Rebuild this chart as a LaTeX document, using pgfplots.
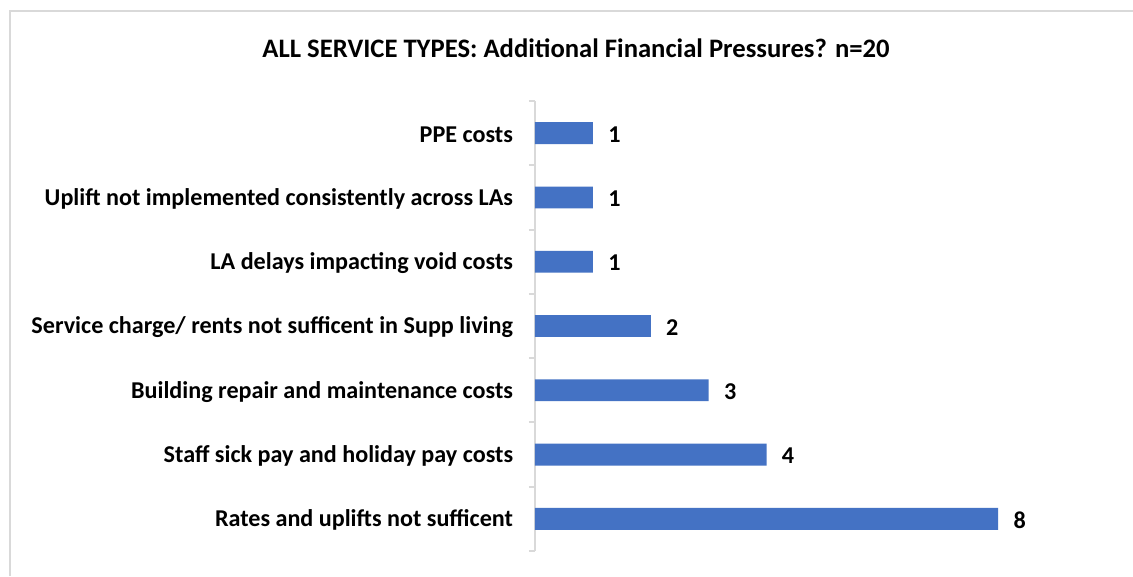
\documentclass[border=0pt]{standalone}
\usepackage{pgfplots}
\pgfplotsset{compat=1.18}
\usepackage{fontspec}
\setmainfont{Carlito}
\definecolor{barblue}{HTML}{4472C4}
\definecolor{framegray}{RGB}{217,217,217}
\begin{document}
\begin{tikzpicture}
\useasboundingbox (0,0) rectangle (849.75pt,432pt);
\fill[white] (0,0) rectangle (849.75pt,432pt);
\draw[framegray,line width=1.5pt] (7.5pt,0) -- (7.5pt,423.75pt) -- (849.75pt,423.75pt);
\node[font=\fontsize{20pt}{24pt}\selectfont\bfseries] at (432pt,396pt) {ALL SERVICE TYPES: Additional Financial Pressures? n=20};
\begin{axis}[
  at={(401.25pt,18.75pt)}, anchor=south west,
  scale only axis,
  width=434.25pt, height=337.5pt,
  xmin=0, xmax=10,
  ymin=-0.5, ymax=6.5,
  xbar, bar width=0.34,
  axis x line=none,
  axis y line*=left,
  y axis line style={framegray,line width=1.5pt,-},
  ytick={0,...,6},
  yticklabels={Rates and uplifts not sufficent,Staff sick pay and holiday pay costs,Building repair and maintenance costs,Service charge/ rents not sufficent in Supp living,LA delays impacting void costs,Uplift not implemented consistently across LAs,PPE costs},
  minor ytick={-0.5,0.5,...,6.5},
  major tick length=0pt,
  minor tick length=4.5pt,
  tick align=outside,
  minor tick style={framegray,line width=1.5pt},
  yticklabel style={font=\fontsize{18.1pt}{21pt}\selectfont\bfseries, xshift=-13pt, yshift=-1pt},
  nodes near coords,
  nodes near coords style={font=\fontsize{18.1pt}{21pt}\selectfont\bfseries, anchor=west, xshift=8pt, yshift=-1pt},
  /pgf/number format/assume math mode=true,
  clip=false,
]
\addplot[fill=barblue, draw=none] coordinates {(8,0) (4,1) (3,2) (2,3) (1,4) (1,5) (1,6)};
\end{axis}
\end{tikzpicture}
\end{document}
